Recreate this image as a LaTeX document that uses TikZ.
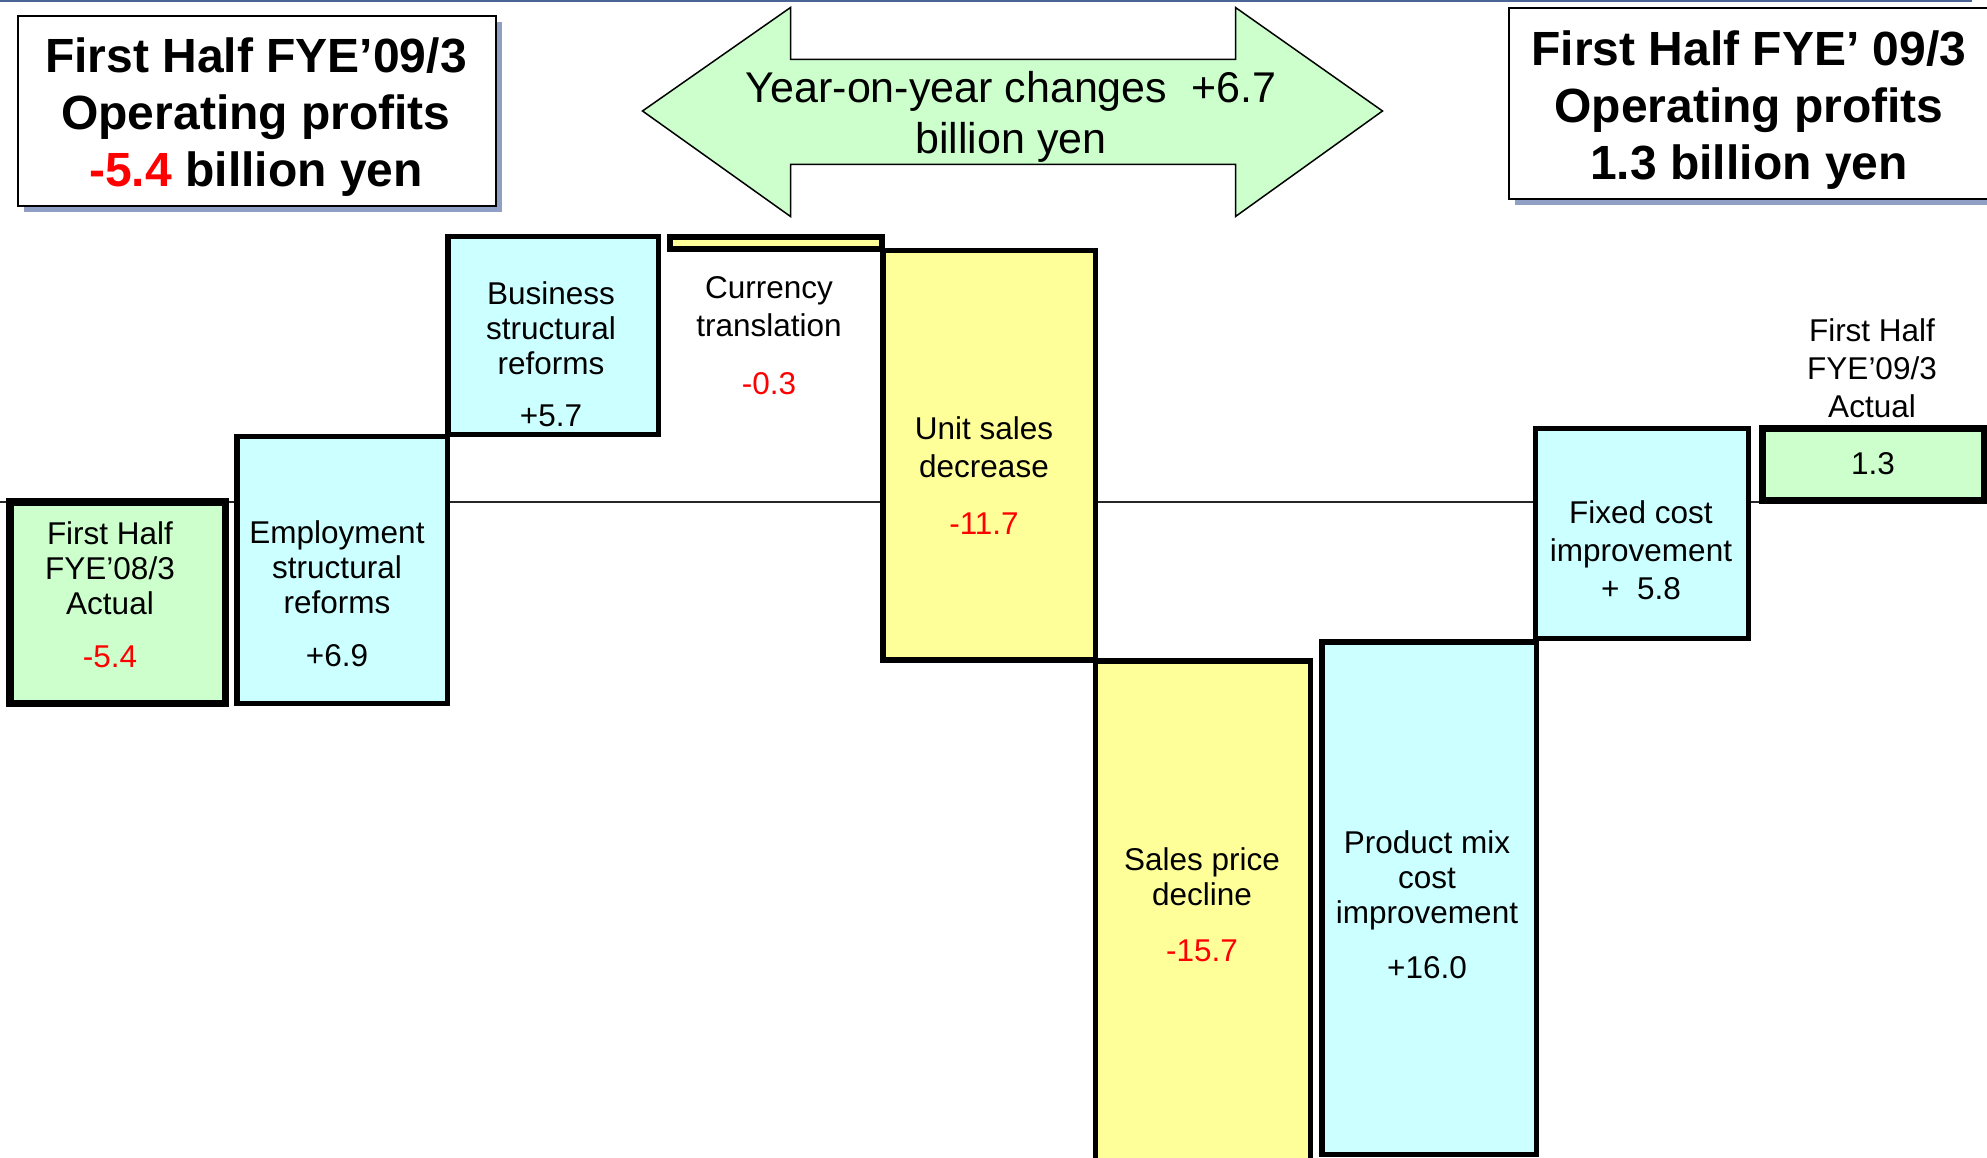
\documentclass[tikz,border=0pt]{standalone}
\usepackage{fontspec}
\setmainfont{Liberation Sans}
\usetikzlibrary{shadows}
\definecolor{gfill}{HTML}{CCFFCC}
\definecolor{cfill}{HTML}{CCFFFF}
\definecolor{yfill}{HTML}{FFFF99}
\definecolor{shd}{HTML}{8FA0C4}
\definecolor{rule}{HTML}{4A6496}
\tikzset{bx/.append style={draw, rectangle, inner sep=0pt, line width=5.5pt}}
\tikzset{gr/.append style={fill=gfill, line width=7.5pt}}
\tikzset{cy/.append style={fill=cfill}}
\tikzset{yl/.append style={fill=yfill}}
\tikzset{lb/.append style={align=center, inner sep=0pt, font=\fontsize{31.5}{35}\selectfont}}
\tikzset{lbb/.append style={font=\fontsize{31.5}{38}\selectfont}}
\tikzset{tt/.append style={draw, fill=white, rectangle, inner sep=0pt, line width=2.5pt, drop shadow={shadow xshift=6pt, shadow yshift=-6pt, fill=shd, opacity=1}}}
\tikzset{ttx/.append style={align=center, inner sep=0pt, font=\fontsize{48}{57}\selectfont\bfseries}}

\begin{document}
\begin{tikzpicture}[x=1pt,y=-1pt]
                \useasboundingbox (0,0) rectangle (1987,1158);
                \clip (0,0) rectangle (1987,1158);
                \draw[rule, line width=2.5pt] (0,1) -- (1972,1);
                % zero line
                \coordinate (z0) at (0,502);
                \coordinate (z1) at (1762.5,502);
                \draw[line width=2.5pt, black!85] (z0) -- (z1);
                \node[bx,gr,minimum width=215.5pt,minimum height=201.5pt] (g1) at (117.75,602.75) {};
                \node[bx,cy,minimum width=210.5pt,minimum height=267pt] (e1) at (342.25,570) {};
                \node[bx,cy,minimum width=210.5pt,minimum height=198pt] (b1) at (553.25,335.5) {};
                \node[bx,yl,line width=6pt,minimum width=212pt,minimum height=12pt] (c1) at (776,243) {};
                \node[bx,yl,minimum width=212.5pt,minimum height=409.5pt] (u1) at (989.25,455.25) {};
                \node[bx,yl,minimum width=215pt,minimum height=514pt] (s1) at (1203,918) {};
                \node[bx,cy,minimum width=214.5pt,minimum height=512.5pt] (p1) at (1429.25,898.25) {};
                \node[bx,cy,minimum width=213pt,minimum height=210pt] (f1) at (1642,533.5) {};
                \node[bx,gr,minimum width=222pt,minimum height=72pt] (g2) at (1873.5,464.5) {};
                % labels
                \node[lb] (g1t) at (110,594.5) {First Half\\FYE’08/3\\Actual\\[18pt]\textcolor{red}{-5.4}};
                \node[lb] (e1t) at (337,593.5) {Employment\\structural\\reforms\\[18pt]+6.9};
                \node[lb] (b1t) at (551,354) {Business\\structural\\reforms\\[17pt]+5.7};
                \node[lb,lbb] (c1t) at (769,336) {Currency\\translation\\[20pt]\textcolor{red}{-0.3}};
                \node[lb,lbb] (u1t) at (984,475.5) {Unit sales\\decrease\\[19pt]\textcolor{red}{-11.7}};
                \node[lb] (s1t) at (1202,905) {Sales price\\decline\\[21pt]\textcolor{red}{-15.7}};
                \node[lb] (p1t) at (1427,905) {Product mix\\cost\\improvement\\[20pt]+16.0};
                \node[lb,lbb] (f1t) at (1641,550) {Fixed cost\\improvement\\+\ \ 5.8};
                \node[lb,lbb] (g2t) at (1872,368) {First Half\\FYE’09/3\\Actual};
                \node[lb] (g2v) at (1873,464) {1.3};
                % titles
                \node[tt,minimum width=478pt,minimum height=190pt] (t1) at (257,111) {};
                \node[ttx] (t1t) at (256,117.5) {First Half FYE’09/3\\Operating profits\\\textcolor{red}{-5.4} billion yen};
                \node[tt,minimum width=483pt,minimum height=191pt] (t2) at (1750.5,103.5) {};
                \node[ttx] (t2t) at (1749,110) {First Half FYE’ 09/3\\Operating profits\\1.3 billion yen};
                \draw[fill=gfill, line width=1.5pt] (642.5,111) -- (790.5,7.5) -- (790.5,59.5) -- (1235.5,59.5) -- (1235.5,7.5) -- (1382.5,111)
                    -- (1235.5,216.5) -- (1235.5,164.5) -- (790.5,164.5) -- (790.5,216.5) -- cycle;
                \node[align=center, inner sep=0pt, font=\fontsize{43}{51}\selectfont] (yoy) at (1011,116.5) {Year-on-year changes\ \ +6.7\\billion yen};
            \end{tikzpicture}
\end{document}
